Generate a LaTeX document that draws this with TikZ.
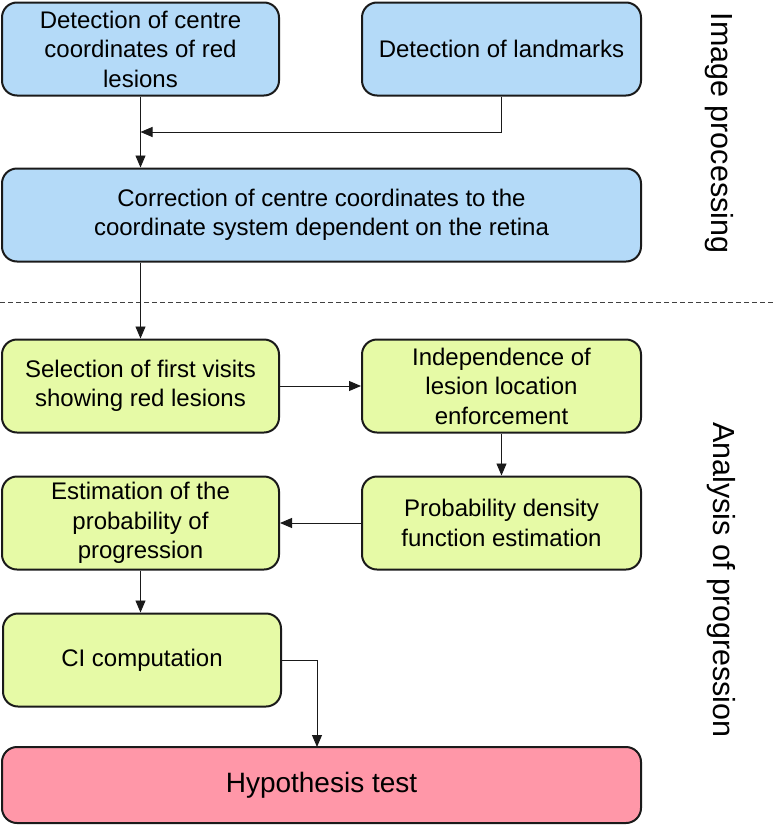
\documentclass[tikz,border=0pt]{standalone}
\usepackage{fontspec}
\setmainfont{Liberation Sans}
\usetikzlibrary{arrows.meta}
\definecolor{boxblue}{HTML}{B4DAF8}
\definecolor{boxgreen}{HTML}{E6FAA6}
\definecolor{boxpink}{HTML}{FF97A8}
\definecolor{edgedark}{HTML}{1A1A1A}
\tikzset{
  proc/.style={draw=edgedark, line width=2pt, rounded corners=15pt, align=center,
    font=\fontsize{24}{29.5}\selectfont, inner sep=0pt},
  bluebox/.style={proc, fill=boxblue},
  greenbox/.style={proc, fill=boxgreen},
  pinkbox/.style={proc, fill=boxpink, font=\fontsize{28}{32}\selectfont},
  arr/.style={line width=0.9pt, draw=edgedark, -{Triangle[length=12pt,width=10pt]}},
  sidelabel/.style={rotate=-90, font=\fontsize{30.5}{34}\selectfont, inner sep=0pt},
}
\begin{document}
\begin{tikzpicture}[x=1pt, y=-1pt]
\useasboundingbox (0,0) rectangle (776,825);
\node[bluebox, minimum width=277pt, minimum height=93pt] (b1) at (140.5,49) {Detection of centre\\coordinates of red\\lesions};
\node[bluebox, minimum width=279pt, minimum height=93pt] (b2) at (501.5,49) {Detection of landmarks};
\node[bluebox, minimum width=639pt, minimum height=93pt] (b3) at (321.5,215) {Correction of centre coordinates to the\\coordinate system dependent on the retina};
\draw[dashed, dash pattern=on 5pt off 3pt, line width=0.8pt, draw=black!75] (0,302) -- (776,302);
\node[greenbox, minimum width=277pt, minimum height=93pt] (b5) at (140.5,386) {Selection of first visits\\showing red lesions};
\node[greenbox, minimum width=279pt, minimum height=93pt] (b6) at (501.5,386) {Independence of\\lesion location\\enforcement};
\node[greenbox, minimum width=277pt, minimum height=93pt] (b7) at (140.5,523) {Estimation of the\\probability of\\progression};
\node[greenbox, minimum width=279pt, minimum height=93pt] (b8) at (501.5,523) {Probability density\\function estimation};
\node[greenbox, minimum width=278pt, minimum height=93pt] (b9) at (142,660) {CI computation};
\node[pinkbox, minimum width=639pt, minimum height=76pt] (b10) at (321.5,785) {Hypothesis test};
\node[sidelabel] (l1) at (719,133) {Image processing};
\node[sidelabel] (l2) at (721,580) {Analysis of progression};
\coordinate (j1) at (140.5,132);
\coordinate (j2) at (317,747);
\draw[arr] (b1.south) -- (b1.south |- b3.north);
\draw[arr] (b2.south) |- (j1);
\draw[arr] (b3.south -| b5.north) -- (b5.north);
\draw[arr] (b5.east) -- (b6.west);
\draw[arr] (b6.south) -- (b8.north);
\draw[arr] (b8.west) -- (b7.east);
\draw[arr] (b7.south) -- (b7.south |- b9.north);
\draw[arr] (b9.east) -| (j2);
\end{tikzpicture}
\end{document}
